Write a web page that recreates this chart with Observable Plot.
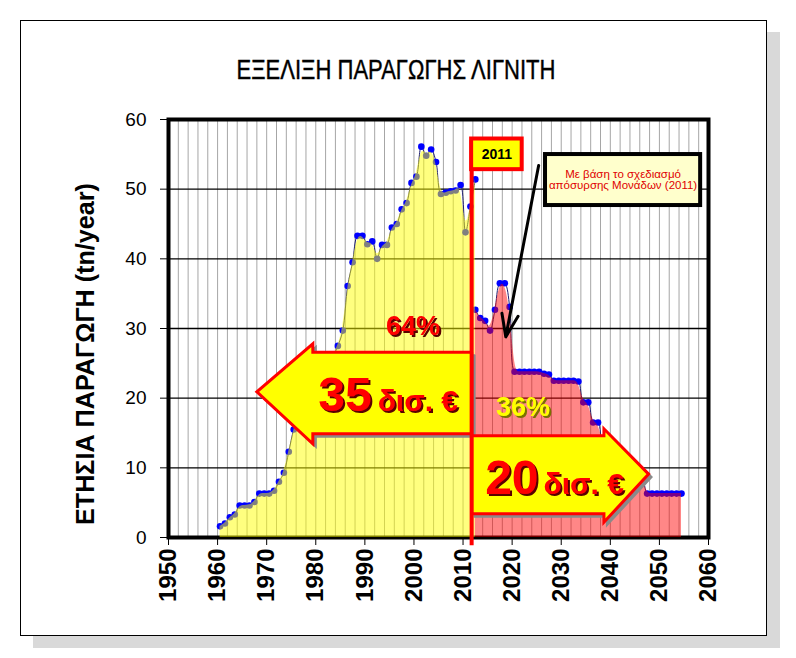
<!DOCTYPE html>
<html><head><meta charset="utf-8">
<script src="https://cdn.jsdelivr.net/npm/d3@7"></script>
<script src="https://cdn.jsdelivr.net/npm/@observablehq/plot@0.6"></script>
<style>
html,body{margin:0;padding:0;background:#fff;}
#wrap{position:relative;width:796px;height:658px;overflow:hidden;}
#box{position:absolute;left:20px;top:20px;width:747px;height:616px;box-sizing:border-box;border:1.5px solid #000;background:#fff;box-shadow:13px 12px 0 #d9d9d9;}
#chart{position:absolute;left:0;top:0;}
</style></head><body>
<div id="wrap"><div id="box"></div><div id="chart"></div></div>
<script>
// ---- data ----
const histYears = [1960,1961,1962,1963,1964,1965,1966,1967,1968,1969,1970,1971,1972,1973,1974,1975,1976,1977,1978,1979,1980,1981,1982,1983,1984,1985,1986,1987,1988,1989,1990,1991,1992,1993,1994,1995,1996,1997,1998,1999,2000,2001,2002,2003,2004,2005,2006,2007,2008,2009,2010,2011,2012];
const histValues = [1.6,2.0,2.9,3.3,4.6,4.6,4.6,5.1,6.3,6.3,6.3,6.7,8.0,9.3,12.3,15.5,17.5,19.5,21.0,22.0,23.0,24.0,25.0,26.0,27.5,29.7,36.1,39.5,43.3,43.3,42.1,42.5,40.0,42.0,42.0,44.5,45.0,47.1,48.0,50.9,51.8,56.1,54.8,55.7,53.9,49.3,49.5,49.7,49.8,50.6,43.8,47.5,51.4];
const planYears = [2012,2013,2014,2015,2016,2017,2018,2019,2020,2021,2022,2023,2024,2025,2026,2027,2028,2029,2030,2031,2032,2033,2034,2035,2036,2037,2038,2039,2040,2041,2042,2043,2044,2045,2046,2047,2048,2049,2050,2051,2052,2053,2054];
const planValues = [32.7,31.5,31.1,29.7,32.7,36.5,36.5,33.1,23.8,23.8,23.8,23.8,23.8,23.8,23.5,23.4,22.5,22.5,22.5,22.5,22.5,22.4,19.4,19.4,16.5,16.5,13.5,13.5,11.0,11.0,9.5,9.5,8.0,8.0,8.5,6.3,6.3,6.3,6.3,6.3,6.3,6.3,6.3];
const xTicks = [1950,1960,1970,1980,1990,2000,2010,2020,2030,2040,2050,2060];
const yTicks = [0,10,20,30,40,50,60];

const titleText = "ΕΞΕΛΙΞΗ ΠΑΡΑΓΩΓΗΣ ΛΙΓΝΙΤΗ";
const yTitleText = "ΕΤΗΣΙΑ ΠΑΡΑΓΩΓΗ (tn/year)";
const splitLabel = "2011";
const noteLines = ["Με βάση το σχεδιασμό", "απόσυρσης Μονάδων (2011)"];
const histShare = "64%", planShare = "36%";
const histCost = "35", planCost = "20", costUnit = "δισ. €";

// ---- build tables ----
const hist = histYears.map((year, i) => ({year, value: histValues[i]}));
const plan = planYears.map((year, i) => ({year, value: planValues[i]}));
const X = d => d.year + 0.5; // points sit in the middle of each year
const split = 2011.75;

// annotation geometry (data units)
const leftArrow = [[split,26.6],[1979.4,26.6],[1979.4,27.8],[1968.0,20.9],[1979.4,13.45],[1979.4,14.9],[split,14.9],[split,26.6]];
const rightArrow = [[split,14.6],[2038.7,14.6],[2038.7,15.6],[2047.8,9.1],[2038.7,2.2],[2038.7,3.4],[split,3.4],[split,14.6]];
const yearBox = [{x1: split, x2: 2022.05, y1: 52.8, y2: 57.2}];
const noteBox = [{x1: 2026.8, x2: 2058.4, y1: 47.65, y2: 54.97}];
const pointer = [{x1: 2025.4, y1: 53.4, x2: 2018.7, y2: 28.8}];

const bigTexts = [
  {x: 1980.5, y: 18.2, t: histCost, size: 48},
  {x: 1992.6, y: 18.2, t: costUnit, size: 30},
  {x: 2014.5, y: 6.3, t: planCost, size: 48},
  {x: 2026.4, y: 6.3, t: costUnit, size: 30}
];
const redShare = [{x: 1999.8, y: 29.0, t: histShare}];
const yellowShare = [{x: 2022.2, y: 17.5, t: planShare}];

const font = "'Liberation Sans', Arial, sans-serif";

const plot = Plot.plot({
  width: 796, height: 658,
  marginLeft: 168, marginRight: 88, marginTop: 119, marginBottom: 121,
  x: {domain: [1950, 2060], label: null},
  y: {domain: [0, 60], label: null},
  style: {background: "transparent", overflow: "visible", fontFamily: font, color: "#000"},
  marks: [
    Plot.ruleX(d3.range(1952, 2060, 2), {stroke: "#a6a6a6", strokeWidth: 1}),
    Plot.ruleY(yTicks.filter(v => v > 0 && v < 60), {stroke: "#000", strokeWidth: 1.3}),
    Plot.frame({stroke: "#000", strokeWidth: 4}),
    Plot.line(hist, {x: X, y: "value", curve: "catmull-rom", stroke: "#202070", strokeWidth: 1}),
    Plot.line(plan, {x: X, y: "value", curve: "catmull-rom", stroke: "#202070", strokeWidth: 1}),
    Plot.dot(hist.concat(plan), {x: X, y: "value", r: 3.3, fill: "#0000ff"}),
    Plot.areaY(hist, {x: X, y: "value", curve: "basis", fill: "#ffff00", fillOpacity: 0.5}),
    Plot.areaY(plan, {x: X, y: "value", curve: "basis", fill: "#ff0000", fillOpacity: 0.47}),
    Plot.axisY({ticks: yTicks, tickSize: 8, tickPadding: 14, fontSize: 19, tickFormat: d => String(d), label: null}),
    Plot.axisX({ticks: xTicks, tickSize: 8, tickPadding: 3, tickRotate: -90, fontSize: 24, fontWeight: "bold", tickFormat: d => String(d), label: null}),
    // block arrows with shadows
    Plot.line(leftArrow, {fill: "#8a8a8a", stroke: "#8a8a8a", strokeWidth: 2, dx: 3, dy: 3, strokeLinejoin: "miter", strokeMiterlimit: 10}),
    Plot.line(leftArrow, {fill: "#ffff00", stroke: "#ff0000", strokeWidth: 3, strokeLinejoin: "miter", strokeMiterlimit: 10}),
    Plot.line(rightArrow, {fill: "#8a8a8a", stroke: "#8a8a8a", strokeWidth: 2, dx: 3, dy: 3, strokeLinejoin: "miter", strokeMiterlimit: 10}),
    Plot.line(rightArrow, {fill: "#ffff00", stroke: "#ff0000", strokeWidth: 3, strokeLinejoin: "miter", strokeMiterlimit: 10}),
    Plot.text(bigTexts, {x: "x", y: "y", text: "t", fontSize: d => d.size, fontWeight: "bold", fill: "#ff0000", textAnchor: "start", lineAnchor: "bottom"}),
    Plot.text(redShare, {x: "x", y: "y", text: "t", fontSize: 27, fontWeight: "bold", fill: "#ff0000", lineAnchor: "bottom"}),
    Plot.text(yellowShare, {x: "x", y: "y", text: "t", fontSize: 27, fontWeight: "bold", fill: "#ffff00", lineAnchor: "bottom"}),
    // split line and labels
    Plot.ruleX([split], {y1: -1.2, y2: 57, stroke: "#ff0000", strokeWidth: 4}),
    Plot.rect(yearBox, {x1: "x1", x2: "x2", y1: "y1", y2: "y2", fill: "#ffff00", stroke: "#ff0000", strokeWidth: 4}),
    Plot.text(yearBox, {x: d => (d.x1 + d.x2) / 2, y: d => (d.y1 + d.y2) / 2, text: () => splitLabel, fontSize: 14, fontWeight: "bold", fill: "#000"}),
    Plot.rect(noteBox, {x1: "x1", x2: "x2", y1: "y1", y2: "y2", fill: "#ffffcc", stroke: "#000", strokeWidth: 4}),
    Plot.text(noteBox, {x: d => (d.x1 + d.x2) / 2, y: d => (d.y1 + d.y2) / 2, text: () => noteLines.join("\n"), fontSize: 11.5, fill: "#e00000", lineHeight: 1.0}),
    Plot.arrow(pointer, {x1: "x1", y1: "y1", x2: "x2", y2: "y2", stroke: "#000", strokeWidth: 3, headLength: 12, headAngle: 40})
  ]
});

const svg = d3.select(plot);
const defs = svg.insert("defs", ":first-child");
function shadowFilter(id, color) {
  const f = defs.append("filter").attr("id", id)
    .attr("x", "-20%").attr("y", "-30%").attr("width", "150%").attr("height", "170%");
  f.append("feDropShadow").attr("dx", 2).attr("dy", 2).attr("stdDeviation", 0.4)
    .attr("flood-color", color).attr("flood-opacity", 1);
}
shadowFilter("shRed", "#5a0000");
shadowFilter("shOlive", "#7a7000");
const redShadowTexts = [histCost, planCost, costUnit, histShare];
svg.selectAll("text").each(function() {
  if (this.closest('g[aria-label*="axis"]')) return;
  const t = this.textContent;
  if (redShadowTexts.includes(t)) this.setAttribute("filter", "url(#shRed)");
  else if (t === planShare) this.setAttribute("filter", "url(#shOlive)");
});

svg.append("text")
  .attr("x", 396).attr("y", 79)
  .attr("text-anchor", "middle")
  .attr("font-family", "'Liberation Sans Narrow', 'Liberation Sans', Arial, sans-serif")
  .attr("font-size", 27)
  .attr("stroke", "#000").attr("stroke-width", 0.4)
  .attr("fill", "#000")
  .attr("textLength", 319).attr("lengthAdjust", "spacingAndGlyphs")
  .text(titleText);
svg.append("text")
  .attr("transform", "translate(94,354) rotate(-90)")
  .attr("text-anchor", "middle")
  .attr("font-family", "'Liberation Sans Narrow', 'Liberation Sans', Arial, sans-serif")
  .attr("font-size", 26).attr("font-weight", "bold")
  .attr("fill", "#000")
  .attr("textLength", 342).attr("lengthAdjust", "spacingAndGlyphs")
  .text(yTitleText);

document.getElementById("chart").appendChild(plot);
</script>
</body></html>
